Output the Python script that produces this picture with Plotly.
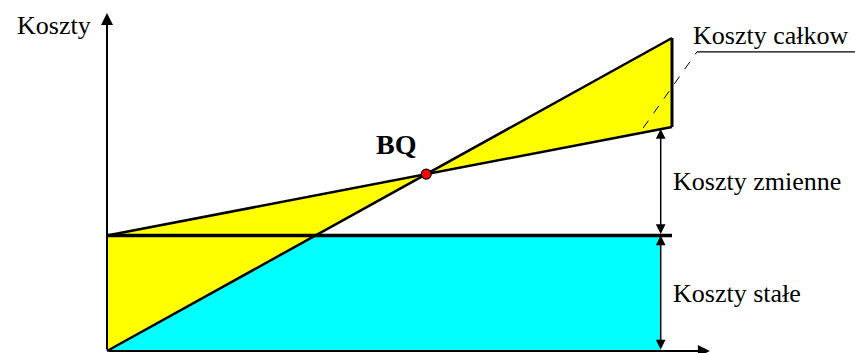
import plotly.graph_objects as go

# ---- data (break-even chart, arbitrary units) ----
quantity = [0, 100]            # production volume
revenue = [0, 271]             # przychody (sales revenue)
total_cost = [100, 194]        # koszty całkowite
fixed_cost = [100, 100]        # koszty stałe
dim_q = 98                     # position of dimension arrows
labels = {
    "y": "Koszty",
    "bq": "BQ",
    "total": "Koszty całkow",
    "variable": "Koszty zmienne",
    "fixed": "Koszty stałe",
}

# break-even point from the two lines
p = (revenue[1] - revenue[0]) / (quantity[1] - quantity[0])
v = (total_cost[1] - total_cost[0]) / (quantity[1] - quantity[0])
F = fixed_cost[0]
bq_x = F / (p - v)
bq_y = p * bq_x
q_fix = F / p  # where revenue line crosses fixed cost level
tc_dim = total_cost[0] + v * dim_q

YELLOW = "#FFFF00"
CYAN = "#00FFFF"
FONT = "Liberation Serif"

fig = go.Figure()

# cyan area: below fixed cost and revenue
fig.add_trace(go.Scatter(
    x=[quantity[0], q_fix, dim_q, dim_q, quantity[0]],
    y=[0, F, F, 0, 0],
    fill="toself", fillcolor=CYAN, mode="lines", line=dict(width=0),
    hoverinfo="skip", showlegend=False))
# yellow left triangle (loss)
fig.add_trace(go.Scatter(
    x=[quantity[0], quantity[0], bq_x, quantity[0]],
    y=[revenue[0], total_cost[0], bq_y, revenue[0]],
    fill="toself", fillcolor=YELLOW, mode="lines", line=dict(width=0),
    hoverinfo="skip", showlegend=False))
# yellow right triangle (profit)
fig.add_trace(go.Scatter(
    x=[bq_x, quantity[1], quantity[1], bq_x],
    y=[bq_y, revenue[1], total_cost[1], bq_y],
    fill="toself", fillcolor=YELLOW, mode="lines", line=dict(width=0),
    hoverinfo="skip", showlegend=False))

# lines
fig.add_trace(go.Scatter(x=quantity, y=fixed_cost, mode="lines",
                         line=dict(color="black", width=3.5),
                         hoverinfo="skip", showlegend=False))
fig.add_trace(go.Scatter(x=quantity, y=revenue, mode="lines",
                         line=dict(color="black", width=2.5),
                         hoverinfo="skip", showlegend=False))
fig.add_trace(go.Scatter(x=quantity, y=total_cost, mode="lines",
                         line=dict(color="black", width=2.5),
                         hoverinfo="skip", showlegend=False))
fig.add_trace(go.Scatter(x=[quantity[1], quantity[1]], y=[total_cost[1], revenue[1]],
                         mode="lines", line=dict(color="black", width=3),
                         hoverinfo="skip", showlegend=False))

# leader line for "Koszty całkowite"
fig.add_trace(go.Scatter(x=[94.9, 104.4], y=[193.1, 258.9], mode="lines",
                         line=dict(color="black", width=1, dash="dash"),
                         hoverinfo="skip", showlegend=False))
fig.add_trace(go.Scatter(x=[104.4, 133], y=[258.9, 258.9], mode="lines",
                         line=dict(color="black", width=1.2),
                         hoverinfo="skip", showlegend=False))

# break-even point
fig.add_trace(go.Scatter(x=[bq_x], y=[bq_y], mode="markers",
                         marker=dict(color="red", size=10,
                                     line=dict(color="black", width=1.2)),
                         hoverinfo="skip", showlegend=False))

ann = []
# axes with arrows
ann.append(dict(x=0, y=292.6, ax=0, ay=0, axref="x", ayref="y", xref="x", yref="y",
                text="", showarrow=True, arrowhead=2, arrowsize=1.2, arrowwidth=2,
                arrowcolor="black", standoff=0))
ann.append(dict(x=106.7, y=0, ax=0, ay=0, axref="x", ayref="y", xref="x", yref="y",
                text="", showarrow=True, arrowhead=2, arrowsize=1.2, arrowwidth=2,
                arrowcolor="black", standoff=0))
# dimension arrows
ann.append(dict(x=dim_q, y=tc_dim, ax=dim_q, ay=F, axref="x", ayref="y", xref="x", yref="y",
                text="", showarrow=True, arrowhead=2, startarrowhead=2,
                arrowside="end+start", arrowsize=1.3, startarrowsize=1.3,
                arrowwidth=1.5, arrowcolor="black", standoff=0, startstandoff=0))
ann.append(dict(x=dim_q, y=F, ax=dim_q, ay=0, axref="x", ayref="y", xref="x", yref="y",
                text="", showarrow=True, arrowhead=2, startarrowhead=2,
                arrowside="end+start", arrowsize=1.3, startarrowsize=1.3,
                arrowwidth=1.5, arrowcolor="black", standoff=0, startstandoff=0))

# texts
font = dict(family=FONT, size=26, color="black")
ann.append(dict(x=0, y=282, xref="x", yref="y", text=labels["y"], showarrow=False,
                xanchor="right", yanchor="middle", xshift=-14, font=font))
ann.append(dict(x=bq_x, y=bq_y, xref="x", yref="y", text="<b>" + labels["bq"] + "</b>",
                showarrow=False, xanchor="center", yanchor="middle",
                xshift=-30, yshift=30, font=dict(family=FONT, size=28, color="black")))
ann.append(dict(x=104.4, y=273.6, xref="x", yref="y", text=labels["total"], showarrow=False,
                xanchor="left", yanchor="middle", xshift=-6, font=font))
ann.append(dict(x=quantity[1], y=(F + total_cost[1]) / 2, xref="x", yref="y",
                text=labels["variable"], showarrow=False,
                xanchor="left", yanchor="middle", xshift=-1, font=font))
ann.append(dict(x=quantity[1], y=F / 2, xref="x", yref="y",
                text=labels["fixed"], showarrow=False,
                xanchor="left", yanchor="middle", xshift=-1, font=font))

fig.update_layout(
    width=855, height=353,
    margin=dict(l=0, r=0, t=0, b=0),
    paper_bgcolor="white", plot_bgcolor="white",
    xaxis=dict(range=[-18.94, 132.39], visible=False, fixedrange=True),
    yaxis=dict(range=[-1.73, 303.9], visible=False, fixedrange=True),
    annotations=ann,
    showlegend=False,
)

fig.write_html("out.html", config={"displayModeBar": False},
               post_script="document.body.style.margin='0';document.body.style.overflow='hidden';")
